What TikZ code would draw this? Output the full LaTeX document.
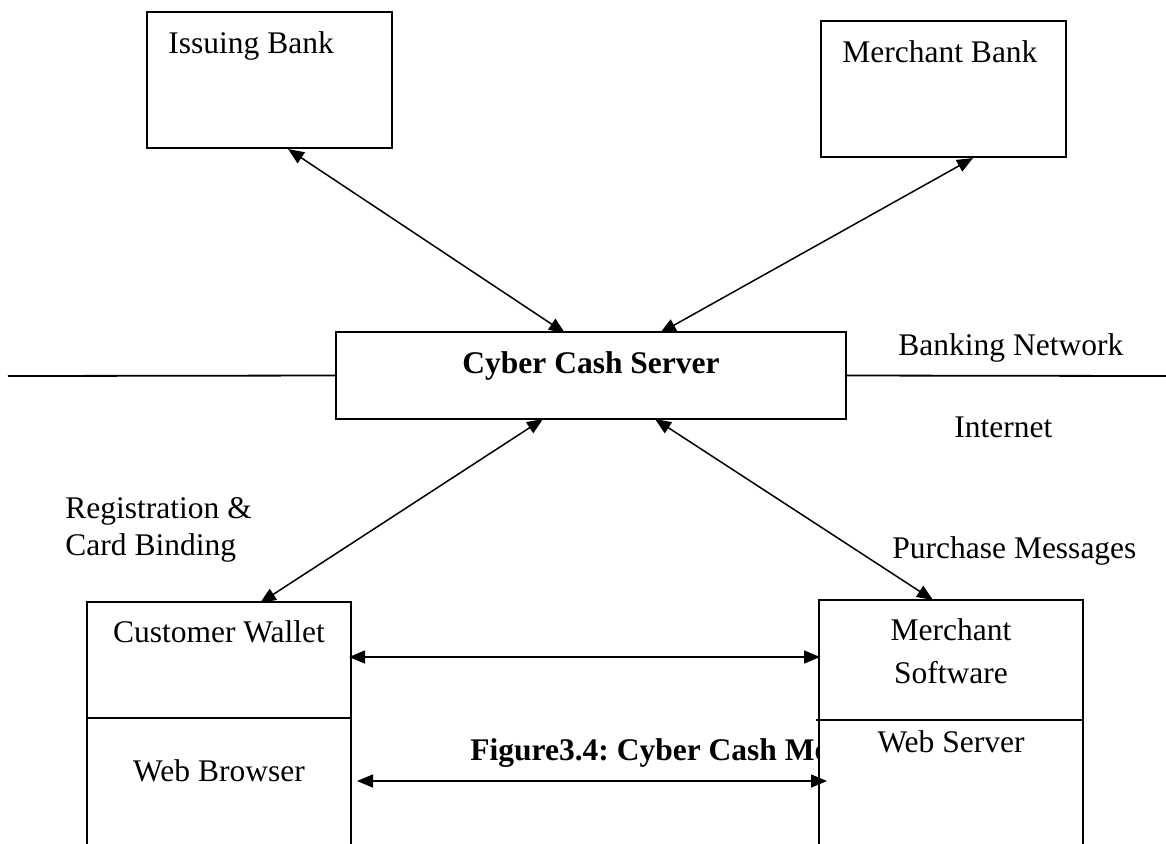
\documentclass[tikz,border=0pt]{standalone}
\usepackage{fontspec}
\setmainfont{Liberation Serif}
\usetikzlibrary{arrows.meta}
\begin{document}
\frenchspacing
\begin{tikzpicture}[x=0.5pt,y=-0.5pt,
  box/.style={draw,line width=0.9pt,fill=white,inner sep=0pt,outer sep=0pt,anchor=north west},
  lbl/.style={font=\fontsize{15.75}{18}\selectfont,inner sep=0pt,anchor=base west},
  clbl/.style={font=\fontsize{15.75}{18}\selectfont,inner sep=0pt,anchor=base},
  bold/.style={font=\fontsize{15.75}{18}\selectfont\bfseries},
  rule/.style={line width=0.9pt},
  conn/.style={line width=0.75pt,{Triangle[length=8pt,width=6.5pt]}-{Triangle[length=8pt,width=6.5pt]}}]
\clip (0,0) rectangle (1166,843);
\fill[white] (0,0) rectangle (1166,843);

% top boxes
\node[box,minimum width=122.5pt,minimum height=68pt] (ib) at (147,12) {};
\node[lbl] (ibt) at (168,53) {Issuing Bank};
\node[box,minimum width=122.5pt,minimum height=68pt] (mb) at (821,21) {};
\node[lbl] (mbt) at (842,62) {Merchant Bank};

% server and network line
\node[box,minimum width=255pt,minimum height=43.5pt] (srv) at (336,332) {};
\node[clbl,bold] (srvt) at (591,373) {Cyber Cash Server};
\coordinate (lineL) at (8,376);
\coordinate (lineR) at (1166,376);
\draw[rule] (lineL) -- (srv.west);
\draw[rule] (srv.east) -- (lineR);
\node[lbl] (bn) at (898,355) {Banking Network};
\node[lbl] (inet) at (954,437) {Internet};

% side labels
\node[lbl] (reg1) at (65,518) {Registration \&};
\node[lbl] (reg2) at (65,555) {Card Binding};
\node[lbl] (pm) at (892,558) {Purchase Messages};

% caption (partly hidden behind merchant box)
\node[lbl,bold] (cap) at (470,760) {Figure3.4: Cyber Cash Model};

% bottom boxes
\node[box,minimum width=132pt,minimum height=150pt] (cw) at (87,602) {};
\coordinate (cwdL) at (87,718);
\coordinate (cwdR) at (351,718);
\draw[rule] (cwdL) -- (cwdR);
\node[clbl] (cwt) at (219,642) {Customer Wallet};
\node[clbl] (wbt) at (219,781) {Web Browser};

\node[box,minimum width=132pt,minimum height=150pt] (ms) at (819,600) {};
\coordinate (msdL) at (816,720);
\coordinate (msdR) at (1083,720);
\draw[rule] (msdL) -- (msdR);
\node[clbl] (mst1) at (951,640) {Merchant};
\node[clbl] (mst2) at (951,683) {Software};
\node[clbl] (wst) at (951,752) {Web Server};

% connector end points
\coordinate (ibA) at (288,149);
\coordinate (srvA) at (565,333);
\coordinate (mbA) at (973,158);
\coordinate (srvB) at (660,333);
\coordinate (cwA) at (260,603);
\coordinate (srvC) at (543,419);
\coordinate (msA) at (933,600);
\coordinate (srvD) at (655,419);
\coordinate (cwB) at (349,657);
\coordinate (msB) at (820,657);
\coordinate (cwC) at (357,781);
\coordinate (msC) at (827,781);

\draw[conn] (ibA) -- (srvA);
\draw[conn] (mbA) -- (srvB);
\draw[conn] (cwA) -- (srvC);
\draw[conn] (msA) -- (srvD);
\draw[conn] (cwB) -- (msB);
\draw[conn] (cwC) -- (msC);
\end{tikzpicture}
\end{document}
